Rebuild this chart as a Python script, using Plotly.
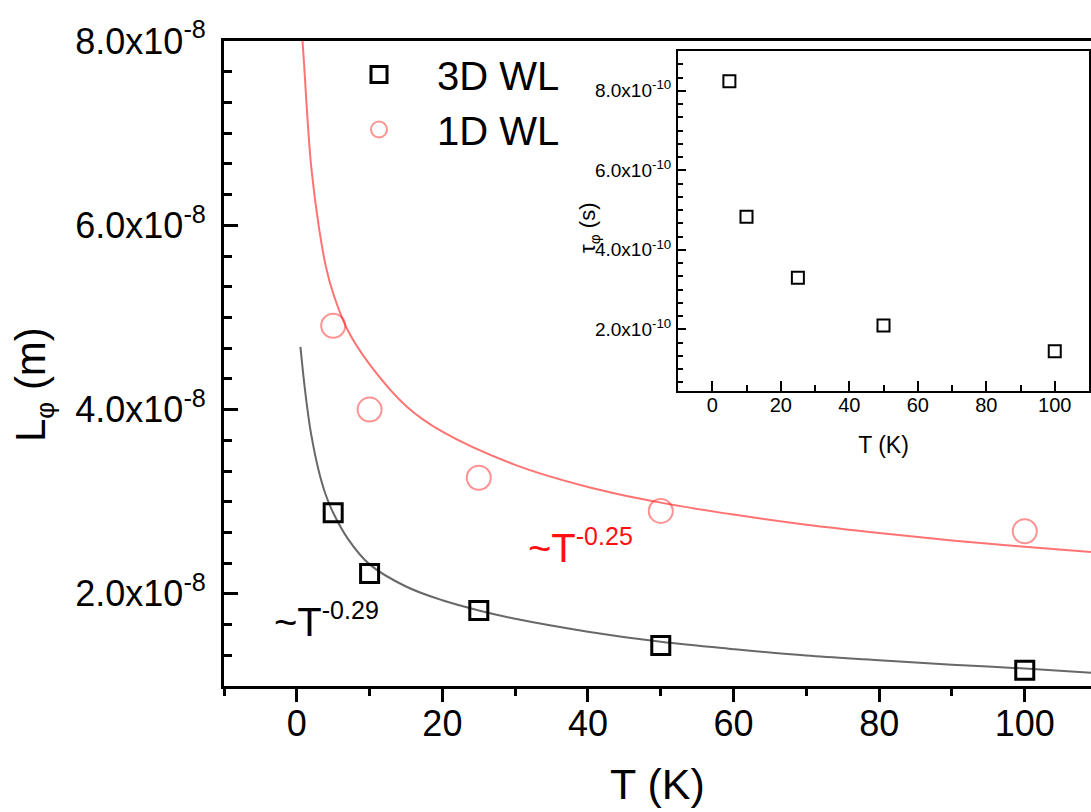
import plotly.graph_objects as go

# ---------------- data ----------------
T_pts = [5, 10, 25, 50, 100]
L_3d = [2.88e-8, 2.22e-8, 1.82e-8, 1.44e-8, 1.17e-8]
L_1d = [4.91e-8, 4.00e-8, 3.26e-8, 2.90e-8, 2.68e-8]

# fitted curves
T_fit_3d = [0.5, 1, 1.5, 2, 3, 4, 5, 7, 10, 15, 20, 25, 30, 40, 50, 60, 70, 80, 90, 100, 110]
L_fit_3d = [4.68e-8, 4.30e-8, 3.98e-8, 3.72e-8, 3.34e-8, 3.07e-8, 2.88e-8, 2.60e-8, 2.32e-8,
            2.08e-8, 1.93e-8, 1.82e-8, 1.73e-8, 1.59e-8, 1.48e-8, 1.40e-8, 1.33e-8, 1.28e-8,
            1.23e-8, 1.19e-8, 1.14e-8]
T_fit_1d = [0.7, 1, 1.5, 2, 3, 4, 5, 7, 10, 15, 20, 30, 40, 50, 60, 70, 80, 90, 100, 110]
L_fit_1d = [8.10e-8, 7.75e-8, 7.12e-8, 6.62e-8, 6.00e-8, 5.55e-8, 5.26e-8, 4.86e-8, 4.49e-8,
            4.04e-8, 3.76e-8, 3.40e-8, 3.16e-8, 2.99e-8, 2.86e-8, 2.75e-8, 2.66e-8, 2.58e-8,
            2.51e-8, 2.45e-8]

# inset
T_in = [5, 10, 25, 50, 100]
tau_in = [8.24e-10, 4.83e-10, 3.30e-10, 2.10e-10, 1.45e-10]

y_main_ticks = [2e-8, 4e-8, 6e-8, 8e-8]
y_main_text = ["2.0x10<sup>-8</sup>", "4.0x10<sup>-8</sup>", "6.0x10<sup>-8</sup>", "8.0x10<sup>-8</sup>"]
y_in_ticks = [2e-10, 4e-10, 6e-10, 8e-10]
y_in_text = ["2.0x10<sup>-10</sup>", "4.0x10<sup>-10</sup>", "6.0x10<sup>-10</sup>", "8.0x10<sup>-10</sup>"]

# ---------------- layout geometry ----------------
W, H = 1091, 812
L_PX, R_PX, T_PX, B_PX = 224, 1091, 41, 686


def px_x(px):
    return (px - L_PX) / (R_PX - L_PX)


def px_y(py):
    return (B_PX - py) / (B_PX - T_PX)


FONT = "Liberation Sans, Arial, sans-serif"

fig = go.Figure()

fig.add_trace(go.Scatter(x=T_fit_3d, y=L_fit_3d, mode="lines", line=dict(color="#686868", width=2, shape="spline"),
                         showlegend=False, hoverinfo="skip"))
fig.add_trace(go.Scatter(x=T_fit_1d, y=L_fit_1d, mode="lines", line=dict(color="rgba(255,40,40,0.65)", width=2, shape="spline"),
                         showlegend=False, hoverinfo="skip"))
fig.add_trace(go.Scatter(x=T_pts, y=L_3d, mode="markers", name="3D WL",
                         marker=dict(symbol="square-open", size=18, color="black", line=dict(width=3, color="black"))))
fig.add_trace(go.Scatter(x=T_pts, y=L_1d, mode="markers", name="1D WL",
                         marker=dict(symbol="circle-open", size=24, color="rgba(255,40,40,0.5)",
                                     line=dict(width=2, color="rgba(255,40,40,0.5)"))))
fig.add_trace(go.Scatter(x=T_in, y=tau_in, mode="markers", xaxis="x2", yaxis="y2", showlegend=False,
                         marker=dict(symbol="square-open", size=12, color="black", line=dict(width=2, color="black"))))

fig.update_layout(
    width=W, height=H,
    margin=dict(l=L_PX, r=W - R_PX, t=T_PX, b=H - B_PX, autoexpand=False),
    plot_bgcolor="white", paper_bgcolor="white",
    font=dict(family=FONT, color="black"),
    xaxis=dict(range=[-10, 109.1], domain=[0, 1], showline=True, linewidth=3, linecolor="black", mirror=True,
               ticks="outside", ticklen=13, tickwidth=3, tickcolor="black", tick0=0, dtick=20,
               tickfont=dict(size=36), showgrid=False, zeroline=False, ticklabelstandoff=-9,
               minor=dict(dtick=10, tick0=0, ticks="outside", ticklen=7, tickwidth=3, tickcolor="black"),
               title=dict(text="T (K)", font=dict(size=43), standoff=26)),
    yaxis=dict(range=[1e-8, 8e-8], domain=[0, 1], showline=True, linewidth=3, linecolor="black", mirror=False,
               ticks="inside", ticklen=14, tickwidth=3, tickcolor="black",
               tickvals=y_main_ticks, ticktext=y_main_text, tickfont=dict(size=36),
               showgrid=False, zeroline=False, ticklabelstandoff=8,
               minor=dict(dtick=2e-8 / 6, tick0=0, ticks="inside", ticklen=8, tickwidth=3, tickcolor="black")),
    xaxis2=dict(range=[-10, 110], domain=[px_x(678), px_x(1089)], anchor="y2", showline=True, linewidth=2,
                linecolor="black", mirror=True, ticks="inside", ticklen=10, tickwidth=2, tickcolor="black",
                tick0=0, dtick=20, tickfont=dict(size=20), showgrid=False, zeroline=False, ticklabelstandoff=-5,
                minor=dict(dtick=10, tick0=0, ticks="inside", ticklen=6, tickwidth=2, tickcolor="black"),
                title=dict(text="T (K)", font=dict(size=23), standoff=22)),
    yaxis2=dict(range=[0.45e-10, 9.0e-10], domain=[px_y(391), px_y(51)], anchor="x2", showline=True, linewidth=2,
                linecolor="black", mirror=True, ticks="inside", ticklen=8, tickwidth=2, tickcolor="black",
                tickvals=y_in_ticks, ticktext=y_in_text, tickfont=dict(size=19), showgrid=False, zeroline=False,
                ticklabelstandoff=1,
                minor=dict(dtick=2e-10 / 6, tick0=0, ticks="inside", ticklen=5, tickwidth=2, tickcolor="black")),
    legend=dict(x=px_x(321), y=px_y(42), xanchor="left", yanchor="top", font=dict(size=40),
                bgcolor="rgba(0,0,0,0)", itemwidth=106, tracegroupgap=0),
    annotations=[
        dict(text="L<sub><span style='font-size:26px'>φ</span></sub> (m)", textangle=-90, x=px_x(33), y=px_y(385),
             xref="paper", yref="paper",
             showarrow=False, font=dict(size=42), xanchor="center", yanchor="middle"),
        dict(text="τ<sub>φ</sub> (s)", textangle=-90, x=px_x(589), y=px_y(228), xref="paper", yref="paper",
             showarrow=False, font=dict(size=22), xanchor="center", yanchor="middle"),
        dict(text="~T<sup><span style='font-size:25px'>-0.29</span></sup>", x=px_x(272), y=px_y(620),
             xref="paper", yref="paper",
             showarrow=False, font=dict(size=40, color="black"), xanchor="left", yanchor="middle"),
        dict(text="~T<sup><span style='font-size:25px'>-0.25</span></sup>", x=px_x(526), y=px_y(546),
             xref="paper", yref="paper",
             showarrow=False, font=dict(size=40, color="#ff1010"), xanchor="left", yanchor="middle"),
    ],
)

fig.write_html("out.html", config={"displayModeBar": False},
               post_script="document.body.style.margin='0px';")
